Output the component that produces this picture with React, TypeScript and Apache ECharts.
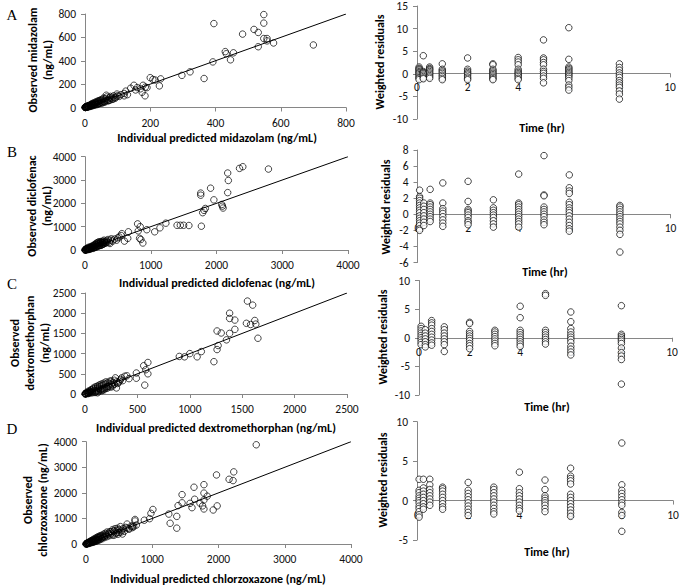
import React, { useEffect, useRef } from "react";
import * as echarts from "echarts";

// ---------- Data ----------
// Left column: [individual predicted, observed] (ng/mL)
const midazolamPairs: number[][] = [
  [395,718],[548,795],[548,722],[483,628],[518,668],[531,642],[531,520],[548,590],[558,590],[558,570],[578,552],[700,535],
  [430,478],[433,460],[455,468],[446,408],[392,390],[365,248],[297,275],[322,305],[200,255],[208,240],[215,235],[232,245],
  [228,185],[178,190],[184,100],[175,130],[150,190],[160,170],[155,150],[170,160],[140,165],[125,140],[120,120],[130,110],
  [110,110],[100,100],[95,90],[90,85],[80,80],[78,95],[70,70],[65,105],[62,75],[58,55],[55,70],[50,48],[48,60],[45,40],
  [42,52],[40,35],[38,45],[35,30],[33,40],[30,28],[28,35],[26,22],[24,30],[22,18],[20,25],[18,15],[16,20],[15,12],[13,16],
  [12,9],[10,14],[9,7],[8,10],[7,5],[6,8],[5,4],[4,6],[3,3],[2,4],[2,1],[1,2],[1,0],[0,1],[190,170],[185,175],[120,100],
  [105,95],[85,70],[75,60],[68,55],[60,45],[52,38],
  [3,8],[6,2],[9,15],[11,5],[14,20],[17,10],[19,28],[21,14],[23,35],[27,18],[29,42],[31,22],[34,48],[37,25],[39,55],
  [41,30],[44,60],[46,35],[49,65],[53,42],[56,80],[59,50],[63,58],[66,90],[72,60],[76,85],[82,70],[88,100],[92,78],[98,115]
];
const diclofenacPairs: number[][] = [
  [2350,3500],[2400,3570],[2790,3470],[2170,3300],[2180,2980],[2170,2460],[1760,2440],[1760,2350],[1910,2650],[1960,2150],
  [2080,1950],[2090,1880],[2100,1800],[1790,1600],[1810,1700],[1830,1780],[1770,1020],[1580,1050],[1500,1060],[1450,1060],
  [1400,1060],[1230,1150],[1140,950],[1060,780],[940,870],[880,300],[850,450],[830,500],[840,1000],[800,1120],[810,820],
  [660,780],[650,500],[600,380],[560,700],[550,620],[500,520],[450,470],[400,480],[380,280],[330,400],[300,330],[280,250],
  [270,380],[260,300],[250,220],[240,330],[230,280],[220,200],[210,350],[200,250],[190,180],[180,260],[170,160],[160,220],
  [150,130],[140,190],[130,110],[120,160],[110,90],[100,130],[95,80],[90,110],[80,60],[75,95],[70,50],[60,80],[55,40],
  [50,60],[45,30],[40,50],[35,25],[30,40],[25,18],[20,30],[15,10],[10,20],[8,5],[5,10],[3,2],[1,4],[350,450],[320,300],
  [290,420],[520,560],[480,420],
  [20,60],[30,15],[40,90],[50,20],[60,120],[70,30],[85,140],[100,60],[110,170],[125,70],[135,210],[145,100],[155,250],
  [165,120],[175,300],[185,150],[195,320],[205,170],[215,300],[225,190],[235,360],[245,200],[255,330],[265,240],[275,330],
  [285,270],[295,360],[310,300],[340,350],[370,330],[390,420],[420,380]
];
const dextromethorphanPairs: number[][] = [
  [1550,2300],[1600,2200],[1380,2000],[1380,1870],[1430,1830],[1620,1820],[1540,1750],[1580,1720],[1630,1730],[1650,1380],
  [1260,1560],[1300,1510],[1380,1500],[1430,1600],[1350,1340],[1270,1200],[1260,1100],[1230,800],[1110,1050],[1070,920],
  [1000,1000],[950,920],[900,930],[600,780],[560,700],[580,600],[600,500],[570,220],[490,520],[490,390],[400,450],[380,440],
  [350,400],[330,320],[300,150],[290,400],[270,280],[250,250],[240,320],[230,200],[220,290],[210,180],[200,250],[190,160],
  [180,230],[170,140],[160,210],[150,120],[140,190],[130,100],[120,170],[110,90],[100,140],[100,40],[90,80],[80,120],
  [70,60],[60,90],[55,45],[50,70],[45,35],[40,55],[35,25],[30,40],[25,20],[20,30],[15,10],[10,20],[8,5],[5,10],[3,2],
  [1,4],[130,60],[160,80],[120,30],[180,100],[260,180],[310,260],[280,340],[420,380],
  [20,50],[30,10],[40,80],[50,25],[60,110],[70,30],[80,150],[90,40],[100,180],[110,60],[120,200],[130,140],[140,230],
  [150,90],[160,250],[170,110],[180,270],[190,130],[200,300],[210,140],[220,180],[230,250],[240,170],[250,320],[260,220],
  [280,240],[300,300],[320,280],[340,360],[360,330]
];
const chlorzoxazonePairs: number[][] = [
  [2570,3880],[1970,2700],[2160,2530],[2220,2480],[2230,2820],[1980,1490],[1920,1330],[1780,2320],[1630,2220],[1450,1930],
  [1640,1750],[1780,1990],[1830,1870],[1780,1720],[1720,1600],[1760,1490],[1780,1370],[1600,1420],[1570,1590],[1390,1500],
  [1450,1610],[1250,1170],[1270,810],[1370,620],[1370,1080],[1010,1350],[980,1200],[960,990],[880,930],[740,900],[740,960],
  [620,780],[680,700],[600,650],[560,600],[520,680],[500,560],[480,620],[460,450],[440,600],[420,500],[400,560],[380,420],
  [360,480],[340,380],[320,470],[300,330],[290,420],[280,300],[260,380],[250,260],[240,320],[230,220],[220,280],[200,250],
  [190,190],[180,240],[170,160],[160,200],[150,140],[140,170],[130,110],[120,150],[110,95],[100,130],[90,80],[80,105],
  [70,65],[60,80],[50,50],[45,65],[40,35],[35,45],[30,25],[25,35],[20,15],[15,22],[10,8],[8,12],[5,4],[3,6],[1,2],
  [550,390],[650,580],[700,640],[760,740],[480,380],[530,470],[420,340],
  [20,40],[30,10],[40,70],[50,30],[60,100],[70,40],[80,130],[90,60],[100,160],[110,70],[120,190],[130,90],[140,220],
  [150,110],[160,250],[170,130],[180,280],[190,150],[200,300],[210,170],[220,330],[240,200],[260,300],[280,250],[300,380],
  [320,290],[340,420],[360,330],[380,480],[400,360],[430,520],[450,400],[470,540],[500,450],[540,540],[580,500],[620,620],
  [650,600],[700,700],[720,680]
];

// Right column: sampling times (hr) and weighted residuals at each time
const sampleTimes = [0.083, 0.25, 0.5, 1, 2, 3, 4, 5, 6, 8];
const midazolamResiduals: number[][] = [
  [1.5,1.2,1.0,0.8,0.5,0.3,0.1,-0.2,-0.5,-0.8,-1.0,-1.3],
  [4.0,0.5,0.3,0.2,0,-0.3,-0.6,-0.9,-1.1],
  [1.5,1.2,1.0,0.8,0.5,0.2,-0.1,-0.4,-0.7,-1.0],
  [2.2,1.0,0.7,0.4,0.1,-0.3,-0.6,-1.0,-1.3],
  [3.5,1.0,0.6,0.3,0,-0.3,-0.7,-1.0,-1.3],
  [2.2,2.0,1.0,0.7,0.4,0.1,-0.2,-0.5,-0.8,-1.1,-1.3],
  [3.6,3.1,2.6,2.0,1.0,0.6,0.3,0,-0.3,-0.6,-1.0,-1.3],
  [7.5,3.5,3.1,2.5,2.0,1.0,0.5,0.1,-0.5,-1.0,-2.0],
  [10.2,3.2,1.5,1.2,0.9,0.6,0.3,0,-0.3,-0.6,-1.0,-1.5,-2.5,-3.0,-3.6],
  [2.2,1.4,0.8,0.2,-0.3,-0.8,-1.5,-2.0,-2.5,-3.0,-3.8,-4.5,-5.6]
];
const diclofenacResiduals: number[][] = [
  [3.0,2.2,2.0,1.7,1.4,1.1,0.8,0.5,0.2,-0.2,-0.5,-0.8,-1.1,-1.4,-1.8,-2.0],
  [1.4,1.0,0.6,0.2,-0.2,-0.6,-1.0,-1.4],
  [3.1,1.4,1.2,0.9,0.6,0.3,0,-0.3,-0.6,-0.9],
  [3.9,1.4,0.7,0.4,0.1,-0.3,-0.7,-1.1,-1.5],
  [4.1,1.6,0.6,0.4,0.2,-0.1,-0.4,-0.8,-1.0,-1.3],
  [1.8,0.8,0.5,0.2,-0.1,-0.4,-0.8,-1.2,-1.6],
  [5.0,1.4,1.2,0.9,0.6,0.3,0,-0.3,-0.6,-0.9,-1.2,-1.6],
  [7.3,2.4,2.3,0.9,0.6,0.3,0,-0.3,-0.7,-1.0,-1.3],
  [4.9,3.3,2.9,2.6,1.5,1.2,0.8,0.5,0.2,-0.2,-0.6,-1.0,-1.4,-1.8,-2.1],
  [1.1,0.9,0.6,0.3,0,-0.3,-0.6,-0.9,-1.2,-1.6,-2.0,-2.5,-4.7]
];
const dextromethorphanResiduals: number[][] = [
  [2.0,1.6,1.2,0.8,0.4,0,-0.4,-0.8,-1.2],
  [1.4,0.8,0.3,-0.2,-0.7,-1.2,-1.6],
  [3.0,2.6,2.2,1.6,1.1,0.6,0.1,-0.4,-0.9,-1.3],
  [1.9,1.4,0.8,0.3,-0.2,-0.7,-1.2,-2.4],
  [2.7,2.5,1.1,0.7,0.3,-0.1,-0.5,-1.0,-1.4,-1.9],
  [1.3,1.0,0.6,0.2,-0.2,-0.6,-1.0,-1.4],
  [5.5,3.5,1.3,0.9,0.5,0.1,-0.3,-0.7,-1.1,-1.5],
  [7.7,7.4,1.3,0.9,0.5,0.1,-0.3,-0.7,-1.1],
  [4.5,2.8,1.6,1.0,0.5,0.1,-0.3,-0.8,-1.5,-2.0,-2.5,-3.0],
  [5.6,0.6,0.3,0,-0.3,-0.6,-1.0,-1.8,-2.6,-3.2,-3.8,-8.1]
];
const chlorzoxazoneResiduals: number[][] = [
  [2.7,1.3,1.0,0.6,0.3,0,-0.3,-0.7,-1.0,-1.4,-1.8,-2.1],
  [2.7,1.6,1.2,0.8,0.4,0,-0.4,-0.8,-1.1],
  [2.7,2.0,1.4,1.0,0.6,0.2,-0.2,-0.6],
  [1.7,1.5,1.2,0.8,0.4,0,-0.4,-0.8,-1.1],
  [2.3,1.3,0.9,0.5,0.1,-0.3,-0.7,-1.1,-1.5,-1.9],
  [1.7,1.4,1.0,0.6,0.2,-0.2,-0.6,-1.0,-1.4,-1.7],
  [3.6,1.5,1.0,0.6,0.2,-0.2,-0.6,-1.0,-1.3],
  [2.6,1.4,0.6,0.3,0,-0.3,-0.6,-1.0,-1.4],
  [4.1,3.1,2.8,2.5,2.1,0.8,0.4,0,-0.4,-0.8,-1.2,-1.6,-2.0],
  [7.3,2.0,1.3,0.9,0.5,0.1,-0.3,-0.6,-1.5,-1.9,-3.9]
];

// Axis ranges
const obsMax = [800, 4000, 2500, 4000];
const obsStep = [200, 1000, 500, 1000];
const timeMax = 10;
const timeStep = 2;
const residMin = [-10, -6, -10, -5];
const residMax = [15, 8, 10, 10];
const residStep = [5, 2, 5, 5];

const panelLetters = ["A", "B", "C", "D"];
const predTitles = [
  "Individual predicted midazolam (ng/mL)",
  "Individual predicted diclofenac (ng/mL)",
  "Individual predicted dextromethorphan (ng/mL)",
  "Individual predicted chlorzoxazone (ng/mL)",
];
const obsTitles = [
  "Observed midazolam\n(ng/mL)",
  "Observed diclofenac\n(ng/mL)",
  "Observed\ndextromethorphan\n(ng/mL)",
  "Observed\nchlorzoxazone (ng/mL)",
];
const residTitle = "Weighted residuals";
const timeTitle = "Time (hr)";

// ---------- Layout ----------
const leftGrids = [
  { left: 85, top: 14, width: 261, height: 93.5 },
  { left: 85, top: 156.7, width: 263, height: 93.3 },
  { left: 85, top: 293, width: 262, height: 101 },
  { left: 86, top: 441.7, width: 265, height: 102.3 },
];
const rightGrids = [
  { left: 417, top: 5, width: 253, height: 114 },
  { left: 417.5, top: 150, width: 253, height: 112.5 },
  { left: 419, top: 280.5, width: 253, height: 114.5 },
  { left: 417, top: 421.7, width: 256, height: 118.3 },
];
const predTitlePos = [[217, 138], [217, 283], [216, 428], [218, 579]];
const obsTitlePos = [[40.5, 60], [39, 206], [30, 343], [35, 500]];
const residTitlePos = [[380, 62], [386, 207], [383, 337], [383, 480]];
const timeTitlePos = [[542, 128], [545, 272], [547, 407], [547, 552]];
const letterPos = [[12, 15], [12, 152], [12, 284], [12, 429]];

const FONT = "Carlito, Lato, sans-serif";
const TITLE_FONT = `bold 12px ${FONT}`;
const AXIS_GRAY = "#868686";

export default function App() {
  const ref = useRef<HTMLDivElement>(null);

  useEffect(() => {
    if (!ref.current) return;
    const chart = echarts.init(ref.current, undefined, { renderer: "svg" });

    const grid: any[] = [];
    const xAxis: any[] = [];
    const yAxis: any[] = [];
    const series: any[] = [];
    const graphic: any[] = [];

    const plain = (v: number) => String(v);
    const labelStyle = { color: "#111", fontFamily: FONT, fontSize: 11.5, margin: 9, formatter: plain };
    const axisCommon = {
      type: "value",
      splitLine: { show: false },
      axisLine: { show: true, onZero: false, lineStyle: { color: AXIS_GRAY, width: 1 } },
      axisTick: { show: true, length: 4, lineStyle: { color: AXIS_GRAY } },
      axisLabel: labelStyle,
    };
    const scatterStyle = {
      type: "scatter",
      symbol: "circle",
      symbolSize: 6.5,
      itemStyle: { color: "#fff", borderColor: "#000", borderWidth: 0.9 },
      silent: true,
      z: 2,
    };
    const hollowStyle = {
      ...scatterStyle,
      itemStyle: { color: "rgba(255,255,255,0)", borderColor: "#000", borderWidth: 0.9 },
    };

    const residSets = [midazolamResiduals, diclofenacResiduals, dextromethorphanResiduals, chlorzoxazoneResiduals];
    const pairSets = [midazolamPairs, diclofenacPairs, dextromethorphanPairs, chlorzoxazonePairs];

    const txt = (x: number, y: number, text: string, font: string, rotation = 0) => ({
      type: "text", x, y, rotation, z: 10, silent: true,
      style: {
        text, font, fill: "#000",
        textAlign: "center", textVerticalAlign: "middle",
        align: "center", verticalAlign: "middle", lineHeight: 15,
      },
    });

    for (let i = 0; i < 4; i++) {
      const m = obsMax[i];
      // left grid: observed vs predicted
      grid.push({ ...leftGrids[i] });
      const li = grid.length - 1;
      xAxis.push({ ...axisCommon, gridIndex: li, min: 0, max: m, interval: obsStep[i] });
      yAxis.push({ ...axisCommon, gridIndex: li, min: 0, max: m, interval: obsStep[i] });
      series.push({ ...hollowStyle, xAxisIndex: li, yAxisIndex: li, data: pairSets[i] });
      series.push({
        type: "line", xAxisIndex: li, yAxisIndex: li, data: [[0, 0], [m, m]],
        symbol: "none", lineStyle: { color: "#000", width: 1 }, silent: true, z: 3,
      });

      // right grid: weighted residuals vs time; x axis sits on residual = 0
      grid.push({ ...rightGrids[i] });
      const ri = grid.length - 1;
      const h = rightGrids[i].height;
      const zeroOffset = -h * (0 - residMin[i]) / (residMax[i] - residMin[i]);
      xAxis.push({ ...axisCommon, gridIndex: ri, min: 0, max: timeMax, interval: timeStep,
        position: "bottom", offset: zeroOffset, axisLabel: { ...labelStyle, margin: 8 } });
      yAxis.push({ ...axisCommon, gridIndex: ri, min: residMin[i], max: residMax[i], interval: residStep[i] });
      const pts: number[][] = [];
      sampleTimes.forEach((t, k) => residSets[i][k].forEach((r) => pts.push([t, r])));
      series.push({ ...scatterStyle, xAxisIndex: ri, yAxisIndex: ri, data: pts });

      graphic.push(txt(predTitlePos[i][0], predTitlePos[i][1], predTitles[i], TITLE_FONT));
      graphic.push(txt(obsTitlePos[i][0], obsTitlePos[i][1], obsTitles[i], TITLE_FONT, Math.PI / 2));
      graphic.push(txt(residTitlePos[i][0], residTitlePos[i][1], residTitle, TITLE_FONT, Math.PI / 2));
      graphic.push(txt(timeTitlePos[i][0], timeTitlePos[i][1], timeTitle, TITLE_FONT));
      graphic.push(txt(letterPos[i][0], letterPos[i][1], panelLetters[i], `15px "Liberation Serif", serif`));
    }

    chart.setOption({
      animation: false,
      backgroundColor: "#fff",
      grid,
      xAxis,
      yAxis,
      series,
      graphic,
    });
    return () => chart.dispose();
  }, []);

  return (
    <div
      ref={ref}
      style={{ position: "fixed", left: 0, top: 0, width: 683, height: 585 }}
    />
  );
}
